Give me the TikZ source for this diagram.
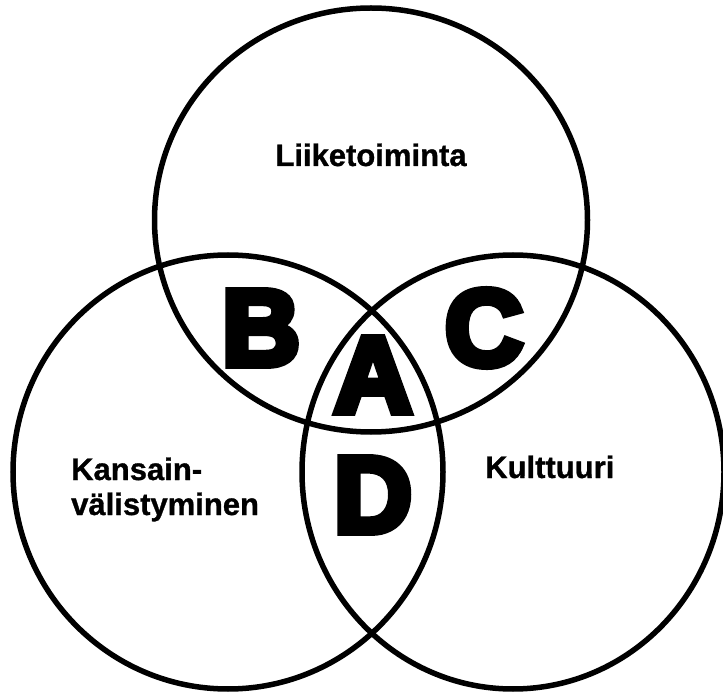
\documentclass[tikz,border=0pt]{standalone}
\usepackage{fontspec}
\setmainfont{Liberation Sans}
\newfontfamily\heavyfont{Liberation Sans Bold}[FakeBold=7]
\newfontfamily\labelfont{Liberation Sans Bold}[FakeBold=1]
\usetikzlibrary{shapes.geometric}
\tikzset{
  setcircle/.style={ellipse, draw=black, line width=5.5pt, inner sep=0pt},
  label/.style={font=\fontsize{31}{35}\selectfont\labelfont, inner sep=0pt},
  bigletter/.style={font=\fontsize{108}{108}\selectfont\heavyfont, inner sep=0pt}
}
\begin{document}
\begin{tikzpicture}[x=1pt,y=-1pt]
\useasboundingbox (0,0) rectangle (723,692);
\node[setcircle, minimum width=433pt, minimum height=424pt] (top) at (371,220) {};
\node[setcircle, minimum width=430pt, minimum height=434pt] (left) at (228,472) {};
\node[setcircle, minimum width=422pt, minimum height=434pt] (right) at (513,472) {};
\node[label, anchor=base] (liike) at (371,166) {Liiketoiminta};
\node[label, anchor=base west] (kult) at (485,478) {Kulttuuri};
\node[label, anchor=base west, align=left] (kans) at (71,515) {Kansain-\\välistyminen};
\node[bigletter] (B) at (261,328) {B};
\node[bigletter] (A) at (373,375) {A};
\node[bigletter] (C) at (484,328) {C};
\node[bigletter] (D) at (373,495) {D};
\end{tikzpicture}
\end{document}
